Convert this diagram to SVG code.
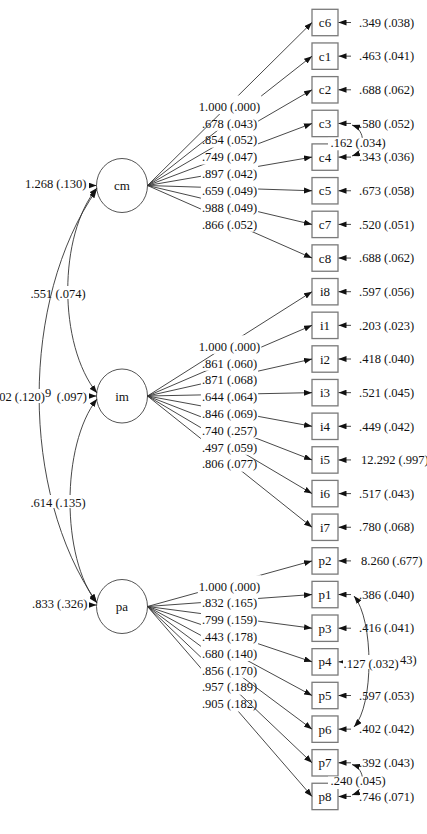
<svg xmlns="http://www.w3.org/2000/svg" width="427" height="834" viewBox="0 0 427 834">
<style>
text{font-family:"Liberation Serif","Times New Roman",serif;font-size:12.5px;fill:#111}
.box{fill:#fff;stroke:#7a7a7a;stroke-width:1.3}
.lat{fill:#fff;stroke:#555;stroke-width:1}
.ln{fill:none;stroke:#333;stroke-width:0.9}
.bg{fill:#fff}
.nm{font-size:13px;text-anchor:middle}
.m{text-anchor:middle}
.e{text-anchor:end}
</style>
<defs>
<marker id="ah" markerUnits="userSpaceOnUse" markerWidth="8" markerHeight="6" refX="8" refY="3" orient="auto-start-reverse"><path d="M0,0L8,3L0,6z" fill="#111"/></marker>
</defs>
<rect width="427" height="834" fill="#fff"/>

<g id="nodes">
<g id="cm"><ellipse class="lat" cx="122" cy="185.5" rx="25.5" ry="27"/><text class="nm" x="122" y="190">cm</text></g>
<g id="im"><ellipse class="lat" cx="122" cy="396" rx="25.5" ry="27"/><text class="nm" x="122" y="400.5">im</text></g>
<g id="pa"><ellipse class="lat" cx="122" cy="606.5" rx="25.5" ry="27"/><text class="nm" x="122" y="611">pa</text></g>
<g id="c6"><rect class="box" x="312" y="9.3" width="26" height="26.4"/><text class="nm" x="325" y="27">c6</text></g>
<g id="c1"><rect class="box" x="312" y="42.95" width="26" height="26.4"/><text class="nm" x="325" y="60.65">c1</text></g>
<g id="c2"><rect class="box" x="312" y="76.6" width="26" height="26.4"/><text class="nm" x="325" y="94.3">c2</text></g>
<g id="c3"><rect class="box" x="312" y="110.25" width="26" height="26.4"/><text class="nm" x="325" y="127.95">c3</text></g>
<g id="c4"><rect class="box" x="312" y="143.9" width="26" height="26.4"/><text class="nm" x="325" y="161.6">c4</text></g>
<g id="c5"><rect class="box" x="312" y="177.55" width="26" height="26.4"/><text class="nm" x="325" y="195.25">c5</text></g>
<g id="c7"><rect class="box" x="312" y="211.2" width="26" height="26.4"/><text class="nm" x="325" y="228.9">c7</text></g>
<g id="c8"><rect class="box" x="312" y="244.85" width="26" height="26.4"/><text class="nm" x="325" y="262.55">c8</text></g>
<g id="i8"><rect class="box" x="312" y="278.5" width="26" height="26.4"/><text class="nm" x="325" y="296.2">i8</text></g>
<g id="i1"><rect class="box" x="312" y="312.15" width="26" height="26.4"/><text class="nm" x="325" y="329.85">i1</text></g>
<g id="i2"><rect class="box" x="312" y="345.8" width="26" height="26.4"/><text class="nm" x="325" y="363.5">i2</text></g>
<g id="i3"><rect class="box" x="312" y="379.45" width="26" height="26.4"/><text class="nm" x="325" y="397.15">i3</text></g>
<g id="i4"><rect class="box" x="312" y="413.1" width="26" height="26.4"/><text class="nm" x="325" y="430.8">i4</text></g>
<g id="i5"><rect class="box" x="312" y="446.75" width="26" height="26.4"/><text class="nm" x="325" y="464.45">i5</text></g>
<g id="i6"><rect class="box" x="312" y="480.4" width="26" height="26.4"/><text class="nm" x="325" y="498.1">i6</text></g>
<g id="i7"><rect class="box" x="312" y="514.05" width="26" height="26.4"/><text class="nm" x="325" y="531.75">i7</text></g>
<g id="p2"><rect class="box" x="312" y="547.7" width="26" height="26.4"/><text class="nm" x="325" y="565.4">p2</text></g>
<g id="p1"><rect class="box" x="312" y="581.35" width="26" height="26.4"/><text class="nm" x="325" y="599.05">p1</text></g>
<g id="p3"><rect class="box" x="312" y="615" width="26" height="26.4"/><text class="nm" x="325" y="632.7">p3</text></g>
<g id="p4"><rect class="box" x="312" y="648.65" width="26" height="26.4"/><text class="nm" x="325" y="666.35">p4</text></g>
<g id="p5"><rect class="box" x="312" y="682.3" width="26" height="26.4"/><text class="nm" x="325" y="700">p5</text></g>
<g id="p6"><rect class="box" x="312" y="715.95" width="26" height="26.4"/><text class="nm" x="325" y="733.65">p6</text></g>
<g id="p7"><rect class="box" x="312" y="749.6" width="26" height="26.4"/><text class="nm" x="325" y="767.3">p7</text></g>
<g id="p8"><rect class="box" x="312" y="783.25" width="26" height="26.4"/><text class="nm" x="325" y="800.95">p8</text></g>
</g>

<g id="connectors">
<!-- cm loadings (drawn bottom to top) -->
<line class="ln" x1="147.5" y1="185.5" x2="312" y2="258.05" marker-end="url(#ah)"/><rect class="bg" x="200.9" y="213.3" width="57.2" height="18.5"/><text class="m" x="229.5" y="228.6">.866 (.052)</text>
<line class="ln" x1="147.5" y1="185.5" x2="312" y2="224.4" marker-end="url(#ah)"/><rect class="bg" x="200.9" y="196.45" width="57.2" height="18.5"/><text class="m" x="229.5" y="211.75">.988 (.049)</text>
<line class="ln" x1="147.5" y1="185.5" x2="312" y2="190.75" marker-end="url(#ah)"/><rect class="bg" x="200.9" y="179.6" width="57.2" height="18.5"/><text class="m" x="229.5" y="194.9">.659 (.049)</text>
<line class="ln" x1="147.5" y1="185.5" x2="312" y2="157.1" marker-end="url(#ah)"/><rect class="bg" x="200.9" y="162.8" width="57.2" height="18.5"/><text class="m" x="229.5" y="178.1">.897 (.042)</text>
<line class="ln" x1="147.5" y1="185.5" x2="312" y2="123.45" marker-end="url(#ah)"/><rect class="bg" x="200.9" y="146" width="57.2" height="18.5"/><text class="m" x="229.5" y="161.3">.749 (.047)</text>
<line class="ln" x1="147.5" y1="185.5" x2="312" y2="89.8" marker-end="url(#ah)"/><rect class="bg" x="200.9" y="129.15" width="57.2" height="18.5"/><text class="m" x="229.5" y="144.45">.854 (.052)</text>
<line class="ln" x1="147.5" y1="185.5" x2="312" y2="56.15" marker-end="url(#ah)"/><rect class="bg" x="200.9" y="112.3" width="57.2" height="18.5"/><text class="m" x="229.5" y="127.6">.678 (.043)</text>
<line class="ln" x1="147.5" y1="185.5" x2="312" y2="22.5" marker-end="url(#ah)"/><rect class="bg" x="197.8" y="95.5" width="63.5" height="18.5"/><text class="m" x="229.5" y="110.8">1.000 (.000)</text>

<!-- im loadings -->
<line class="ln" x1="147.5" y1="396" x2="312" y2="527.25" marker-end="url(#ah)"/><rect class="bg" x="200.9" y="453.1" width="57.2" height="18.5"/><text class="m" x="229.5" y="468.4">.806 (.077)</text>
<line class="ln" x1="147.5" y1="396" x2="312" y2="493.6" marker-end="url(#ah)"/><rect class="bg" x="200.9" y="436.3" width="57.2" height="18.5"/><text class="m" x="229.5" y="451.6">.497 (.059)</text>
<line class="ln" x1="147.5" y1="396" x2="312" y2="459.95" marker-end="url(#ah)"/><rect class="bg" x="200.9" y="419.5" width="57.2" height="18.5"/><text class="m" x="229.5" y="434.8">.740 (.257)</text>
<line class="ln" x1="147.5" y1="396" x2="312" y2="426.3" marker-end="url(#ah)"/><rect class="bg" x="200.9" y="402.65" width="57.2" height="18.5"/><text class="m" x="229.5" y="417.95">.846 (.069)</text>
<line class="ln" x1="147.5" y1="396" x2="312" y2="392.65" marker-end="url(#ah)"/><rect class="bg" x="200.9" y="385.8" width="57.2" height="18.5"/><text class="m" x="229.5" y="401.1">.644 (.064)</text>
<line class="ln" x1="147.5" y1="396" x2="312" y2="359" marker-end="url(#ah)"/><rect class="bg" x="200.9" y="369" width="57.2" height="18.5"/><text class="m" x="229.5" y="384.3">.871 (.068)</text>
<line class="ln" x1="147.5" y1="396" x2="312" y2="325.35" marker-end="url(#ah)"/><rect class="bg" x="200.9" y="352.2" width="57.2" height="18.5"/><text class="m" x="229.5" y="367.5">.861 (.060)</text>
<line class="ln" x1="147.5" y1="396" x2="312" y2="291.7" marker-end="url(#ah)"/><rect class="bg" x="197.8" y="335.35" width="63.5" height="18.5"/><text class="m" x="229.5" y="350.65">1.000 (.000)</text>

<!-- pa loadings -->
<line class="ln" x1="147.5" y1="606.5" x2="312" y2="796.45" marker-end="url(#ah)"/><rect class="bg" x="200.9" y="693" width="57.2" height="18.5"/><text class="m" x="229.5" y="708.3">.905 (.182)</text>
<line class="ln" x1="147.5" y1="606.5" x2="312" y2="762.8" marker-end="url(#ah)"/><rect class="bg" x="200.9" y="676.15" width="57.2" height="18.5"/><text class="m" x="229.5" y="691.45">.957 (.189)</text>
<line class="ln" x1="147.5" y1="606.5" x2="312" y2="729.15" marker-end="url(#ah)"/><rect class="bg" x="200.9" y="659.3" width="57.2" height="18.5"/><text class="m" x="229.5" y="674.6">.856 (.170)</text>
<line class="ln" x1="147.5" y1="606.5" x2="312" y2="695.5" marker-end="url(#ah)"/><rect class="bg" x="200.9" y="642.5" width="57.2" height="18.5"/><text class="m" x="229.5" y="657.8">.680 (.140)</text>
<line class="ln" x1="147.5" y1="606.5" x2="312" y2="661.85" marker-end="url(#ah)"/><rect class="bg" x="200.9" y="625.7" width="57.2" height="18.5"/><text class="m" x="229.5" y="641">.443 (.178)</text>
<line class="ln" x1="147.5" y1="606.5" x2="312" y2="628.2" marker-end="url(#ah)"/><rect class="bg" x="200.9" y="608.85" width="57.2" height="18.5"/><text class="m" x="229.5" y="624.15">.799 (.159)</text>
<line class="ln" x1="147.5" y1="606.5" x2="312" y2="594.55" marker-end="url(#ah)"/><rect class="bg" x="200.9" y="592" width="57.2" height="18.5"/><text class="m" x="229.5" y="607.3">.832 (.165)</text>
<line class="ln" x1="147.5" y1="606.5" x2="312" y2="560.9" marker-end="url(#ah)"/><rect class="bg" x="197.8" y="575.2" width="63.5" height="18.5"/><text class="m" x="229.5" y="590.5">1.000 (.000)</text>

<!-- residual arrows and labels -->
<g class="err">
<line class="ln" x1="351" y1="22.5" x2="338.5" y2="22.5" marker-end="url(#ah)"/><text x="359" y="26.7">.349 (.038)</text>
<line class="ln" x1="351" y1="56.15" x2="338.5" y2="56.15" marker-end="url(#ah)"/><text x="359" y="60.35">.463 (.041)</text>
<line class="ln" x1="351" y1="89.8" x2="338.5" y2="89.8" marker-end="url(#ah)"/><text x="359" y="94">.688 (.062)</text>
<line class="ln" x1="351" y1="123.45" x2="338.5" y2="123.45" marker-end="url(#ah)"/><text x="359" y="127.65">.580 (.052)</text>
<line class="ln" x1="351" y1="157.1" x2="338.5" y2="157.1" marker-end="url(#ah)"/><text x="359" y="161.3">.343 (.036)</text>
<line class="ln" x1="351" y1="190.75" x2="338.5" y2="190.75" marker-end="url(#ah)"/><text x="359" y="194.95">.673 (.058)</text>
<line class="ln" x1="351" y1="224.4" x2="338.5" y2="224.4" marker-end="url(#ah)"/><text x="359" y="228.6">.520 (.051)</text>
<line class="ln" x1="351" y1="258.05" x2="338.5" y2="258.05" marker-end="url(#ah)"/><text x="359" y="262.25">.688 (.062)</text>
<line class="ln" x1="351" y1="291.7" x2="338.5" y2="291.7" marker-end="url(#ah)"/><text x="359" y="295.9">.597 (.056)</text>
<line class="ln" x1="351" y1="325.35" x2="338.5" y2="325.35" marker-end="url(#ah)"/><text x="359" y="329.55">.203 (.023)</text>
<line class="ln" x1="351" y1="359" x2="338.5" y2="359" marker-end="url(#ah)"/><text x="359" y="363.2">.418 (.040)</text>
<line class="ln" x1="351" y1="392.65" x2="338.5" y2="392.65" marker-end="url(#ah)"/><text x="359" y="396.85">.521 (.045)</text>
<line class="ln" x1="351" y1="426.3" x2="338.5" y2="426.3" marker-end="url(#ah)"/><text x="359" y="430.5">.449 (.042)</text>
<line class="ln" x1="351" y1="459.95" x2="338.5" y2="459.95" marker-end="url(#ah)"/><text x="361" y="464.15">12.292 (.997)</text>
<line class="ln" x1="351" y1="493.6" x2="338.5" y2="493.6" marker-end="url(#ah)"/><text x="359" y="497.8">.517 (.043)</text>
<line class="ln" x1="351" y1="527.25" x2="338.5" y2="527.25" marker-end="url(#ah)"/><text x="359" y="531.45">.780 (.068)</text>
<line class="ln" x1="351" y1="560.9" x2="338.5" y2="560.9" marker-end="url(#ah)"/><text x="361" y="565.1">8.260 (.677)</text>
<line class="ln" x1="351" y1="594.55" x2="338.5" y2="594.55" marker-end="url(#ah)"/><text x="359" y="598.75">.386 (.040)</text>
<line class="ln" x1="351" y1="628.2" x2="338.5" y2="628.2" marker-end="url(#ah)"/><text x="359" y="632.4">.416 (.041)</text>
<line class="ln" x1="351" y1="661.85" x2="338.5" y2="661.85" marker-end="url(#ah)"/><text x="400" y="664" font-size="11px">43)</text>
<line class="ln" x1="351" y1="695.5" x2="338.5" y2="695.5" marker-end="url(#ah)"/><text x="359" y="699.7">.597 (.053)</text>
<line class="ln" x1="351" y1="729.15" x2="338.5" y2="729.15" marker-end="url(#ah)"/><text x="359" y="733.35">.402 (.042)</text>
<line class="ln" x1="351" y1="762.8" x2="338.5" y2="762.8" marker-end="url(#ah)"/><text x="359" y="767">.392 (.043)</text>
<line class="ln" x1="351" y1="796.45" x2="338.5" y2="796.45" marker-end="url(#ah)"/><text x="359" y="800.65">.746 (.071)</text>
</g>

<!-- residual covariances -->
<path class="ln" d="M352,125 C366,130 366,151 352,156" marker-start="url(#ah)" marker-end="url(#ah)"/>
<rect class="bg" x="328" y="137.8" width="60" height="12.5"/><text x="330.5" y="146.8">.162 (.034)</text>
<path class="ln" d="M352,764.5 C366,769 366,790 352,795" marker-start="url(#ah)" marker-end="url(#ah)"/>
<rect class="bg" x="328" y="776.5" width="60" height="12.5"/><text x="330.5" y="785">.240 (.045)</text>
<path class="ln" d="M354,596 C374,620 374,705 354,727" marker-start="url(#ah)" marker-end="url(#ah)"/>
<rect class="bg" x="343" y="655" width="56" height="14"/><text x="343.5" y="668">.127 (.032)</text>

<!-- latent variances and covariances -->
<path class="ln" d="M97,399 C61,445 61,558 97,603" marker-start="url(#ah)" marker-end="url(#ah)"/>
<path class="ln" d="M97,188 C58,235 58,345 97,393" marker-start="url(#ah)" marker-end="url(#ah)"/>
<rect class="bg" x="30" y="286" width="56" height="13"/><text class="m" x="58" y="298.3">.551 (.074)</text>
<path class="ln" d="M96.5,190 C20,300 20,492 96.5,602" marker-start="url(#ah)" marker-end="url(#ah)"/>
<rect class="bg" x="30" y="495" width="56" height="13"/><text class="m" x="58" y="507.3">.614 (.135)</text>
<text x="45" y="397" font-size="10px">9</text><text class="e" x="87" y="400.8">(.097)</text>
<rect class="bg" x="0" y="389" width="44" height="14"/><text class="e" x="45" y="400.8">.602 (.120)</text>
<line class="ln" x1="89" y1="185.5" x2="96.5" y2="185.5" marker-end="url(#ah)"/><text class="e" x="86.5" y="188.3">1.268 (.130)</text>
<line class="ln" x1="89" y1="396" x2="96.5" y2="396" marker-end="url(#ah)"/>
<line class="ln" x1="89" y1="605" x2="96.5" y2="605" marker-end="url(#ah)"/><text class="e" x="87.3" y="608.4">.833 (.326)</text>
</g>
</svg>
